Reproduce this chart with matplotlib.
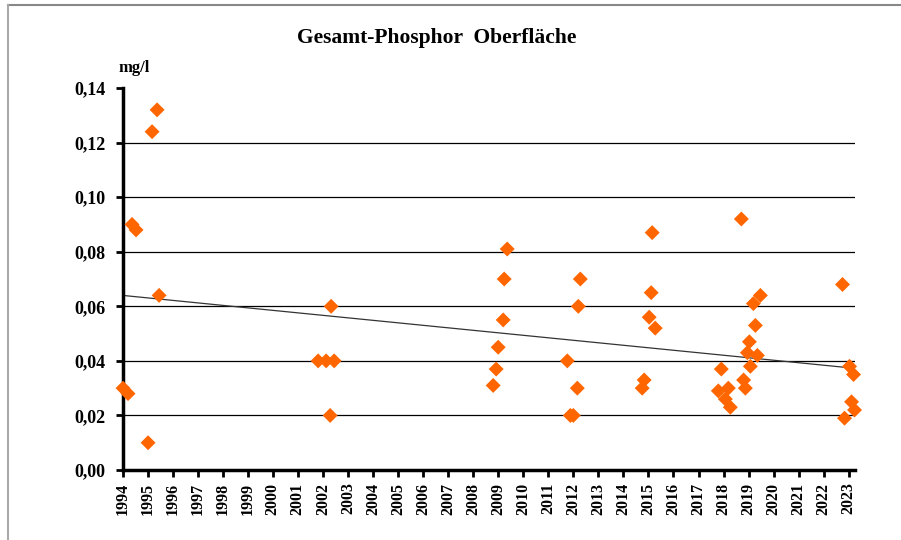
import numpy as np
import matplotlib
matplotlib.use('Agg')
import matplotlib.pyplot as plt
from matplotlib.lines import Line2D

# Messwerte (Jahr als Dezimalzahl, Gesamt-Phosphor in mg/l)
years = [1994.02, 1994.22, 1994.38, 1994.54, 1995.02, 1995.18, 1995.38, 1995.46,
         2001.81, 2002.13, 2002.45, 2002.33, 2002.29,
         2008.80, 2008.92, 2009.00, 2009.20, 2009.24, 2009.36,
         2011.76, 2011.88, 2012.00, 2012.16, 2012.20, 2012.28,
         2014.83, 2014.75, 2015.03, 2015.27, 2015.11, 2015.15,
         2017.91, 2017.79, 2018.19, 2018.07, 2018.27, 2018.80, 2018.87, 2018.71,
         2019.07, 2018.95, 2019.03, 2019.35, 2019.27, 2019.19, 2019.47,
         2022.75, 2023.03, 2023.19, 2023.11, 2023.23, 2022.83]
values = [0.030, 0.028, 0.090, 0.088, 0.010, 0.124, 0.132, 0.064,
          0.040, 0.040, 0.040, 0.060, 0.020,
          0.031, 0.037, 0.045, 0.055, 0.070, 0.081,
          0.040, 0.020, 0.020, 0.030, 0.060, 0.070,
          0.033, 0.030, 0.056, 0.052, 0.065, 0.087,
          0.037, 0.029, 0.030, 0.026, 0.023, 0.033, 0.030, 0.092,
          0.038, 0.043, 0.047, 0.042, 0.053, 0.061, 0.064,
          0.068, 0.038, 0.035, 0.025, 0.022, 0.019]

# Trendlinie
trend_years = [1994.0, 2023.1]
trend_values = [0.064, 0.0374]

tick_years = list(range(1994, 2024))
y_ticks = [0.00, 0.02, 0.04, 0.06, 0.08, 0.10, 0.12, 0.14]
grid_values = [0.02, 0.04, 0.06, 0.08, 0.10, 0.12]

plt.rcParams['font.family'] = ['Liberation Serif', 'DejaVu Serif']
plt.rcParams['font.weight'] = 'bold'

fig = plt.figure(figsize=(9.01, 5.4), dpi=100)
ax = fig.add_axes([0.136, 0.1296, 0.813, 0.7074])

# Rahmen oben und links
fig.add_artist(Line2D([0.009, 1.0], [0.991, 0.991], transform=fig.transFigure,
                      color='#888888', linewidth=1.5))
fig.add_artist(Line2D([0.009, 0.009], [0.0, 0.991], transform=fig.transFigure,
                      color='#aaaaaa', linewidth=1.5))

for gv in grid_values:
    ax.axhline(gv, color='black', linewidth=0.9, zorder=1)

ax.plot(trend_years, trend_values, color='#333333', linewidth=0.9, zorder=2)

ax.scatter(years, values, marker='D', s=58, color='#FF6600', edgecolors='none',
           zorder=3, clip_on=False)

ax.set_xlim(1994, 2023.25)
ax.set_ylim(0, 0.14)
ax.set_xticks(tick_years)
ax.set_xticklabels([str(y) for y in tick_years], rotation=90, fontsize=11.5, fontweight='bold')
ax.set_yticks(y_ticks)
ax.set_yticklabels([('%.2f' % v).replace('.', ',') for v in y_ticks], fontsize=13, fontweight='bold')

for side in ['top', 'right']:
    ax.spines[side].set_visible(False)
for side in ['left', 'bottom']:
    ax.spines[side].set_linewidth(2.5)
ax.tick_params(axis='both', direction='out', length=5, width=2)
ax.tick_params(axis='y', pad=7)
ax.tick_params(axis='x', pad=4)

fig.text(0.485, 0.93, 'Gesamt-Phosphor  Oberfläche', ha='center', va='center',
         fontsize=15.5, fontweight='bold')
fig.text(0.149, 0.875, 'mg/l', ha='center', va='center', fontsize=12, fontweight='bold')

fig.savefig('out.png', dpi=100)
